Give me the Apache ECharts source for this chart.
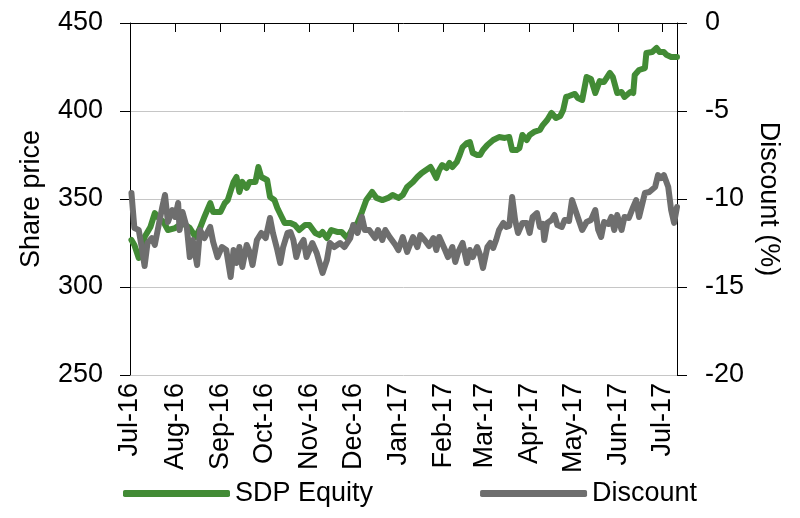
<!DOCTYPE html>
<html>
<head>
<meta charset="utf-8">
<script src="https://cdn.jsdelivr.net/npm/echarts@6/dist/echarts.min.js"></script>
<style>
html,body{margin:0;padding:0;background:#fff;}
#chart{width:800px;height:518px;}
</style>
</head>
<body>
<div id="chart"></div>
<script>
// x positions are days after 1 Jul 2016
const monthLabels = ['Jul-16','Aug-16','Sep-16','Oct-16','Nov-16','Dec-16','Jan-17','Feb-17','Mar-17','Apr-17','May-17','Jun-17','Jul-17'];
const monthTickDays = [0,31,62,92,123,153,184,215,243,274,304,335,365];

const equityDays = [1,3,6,8,10,14,17,19,23,26,31,36,41,45,48,51,55,57,62,65,67,71,73,75,77,80,82,86,88,90,94,96,99,101,104,106,110,113,116,120,123,127,130,132,135,138,142,145,149,152,156,159,162,166,169,173,177,180,184,187,190,194,197,200,203,206,208,210,212,214,217,219,221,224,226,228,231,233,235,238,240,242,245,249,253,257,260,262,265,267,269,272,274,277,281,283,286,289,292,295,297,299,301,305,307,310,313,316,319,322,325,329,331,334,337,339,343,345,346,349,353,354,358,361,363,366,368,371,375];
const equityPrice = [326.7,323.9,316.5,321.0,328.4,334.1,342.0,339.8,336.9,332.4,333.5,336.4,333.5,328.4,333.5,339.8,347.7,342.6,342.6,347.7,349.4,359.7,362.5,354.0,359.7,356.3,359.7,359.7,368.2,362.5,360.8,351.1,349.4,344.9,339.8,336.4,336.4,335.2,332.4,335.2,335.2,330.7,329.5,331.3,327.8,332.4,331.3,331.3,327.8,332.4,336.4,342.6,349.4,354.0,350.6,349.4,350.6,352.3,350.6,352.3,356.8,359.7,362.5,364.8,366.5,368.2,365.3,361.9,366.5,369.3,367.6,370.5,368.2,371.0,375.0,379.5,381.8,382.4,376.1,375.0,375.0,377.8,380.7,383.5,385.2,384.7,385.2,377.8,377.8,379.0,386.4,383.5,386.4,388.1,389.2,392.0,394.9,398.9,396.0,397.2,400.6,408.0,408.5,409.7,407.4,406.3,419.3,418.2,410.2,417.0,416.5,421.6,419.3,410.2,410.8,408.0,410.8,410.2,420.5,423.3,424.4,433.0,433.5,435.8,433.5,433.5,431.8,430.7,430.7];

const discountDays = [1,3,6,8,10,12,15,17,19,22,24,26,29,31,33,34,36,39,41,43,46,48,51,55,57,60,63,66,69,71,73,75,77,80,82,84,87,90,93,96,98,101,103,105,108,110,112,114,116,119,121,123,125,128,130,132,135,137,140,144,147,151,153,156,159,161,164,168,170,173,175,178,182,184,187,190,194,197,199,202,205,208,210,212,216,218,221,223,225,228,231,233,235,238,240,242,245,247,249,251,253,256,258,260,262,264,266,269,272,274,276,279,281,283,284,286,289,291,293,296,298,301,303,306,310,313,316,319,321,323,325,328,330,332,334,337,339,342,345,347,349,353,356,360,362,364,366,369,371,373,375];
const discountPct = [-9.66,-11.65,-11.76,-12.73,-13.81,-12.50,-12.22,-12.61,-11.76,-10.51,-9.77,-11.31,-10.63,-11.02,-10.23,-11.76,-10.74,-11.65,-13.30,-12.33,-13.75,-11.76,-12.22,-11.59,-12.44,-13.30,-12.73,-12.90,-14.43,-12.90,-13.64,-12.73,-13.86,-12.61,-13.01,-13.75,-12.33,-11.93,-12.22,-11.08,-11.93,-12.90,-13.64,-12.73,-11.93,-11.88,-12.33,-13.30,-12.73,-12.33,-13.30,-12.90,-12.50,-13.07,-13.64,-14.20,-13.47,-12.50,-12.73,-12.50,-12.73,-12.22,-11.48,-11.93,-11.02,-11.76,-11.76,-12.22,-11.76,-12.33,-11.76,-12.16,-12.61,-12.90,-12.16,-13.01,-12.16,-12.73,-12.05,-12.33,-12.67,-12.22,-12.90,-12.16,-12.90,-13.30,-12.73,-13.58,-13.01,-12.50,-13.64,-12.90,-13.30,-12.73,-13.18,-13.92,-12.73,-12.50,-12.78,-12.33,-11.76,-11.36,-11.59,-11.53,-9.89,-11.19,-11.93,-11.36,-11.36,-11.93,-11.02,-10.80,-11.59,-11.42,-12.33,-11.36,-11.19,-10.91,-11.48,-11.59,-11.19,-11.25,-10.06,-10.80,-11.76,-11.31,-11.19,-10.63,-11.76,-12.16,-11.31,-11.42,-11.02,-11.76,-10.91,-11.76,-11.02,-11.08,-10.45,-10.06,-11.02,-9.66,-9.60,-9.32,-8.64,-8.81,-8.64,-9.32,-10.63,-11.36,-10.45];

const priceTicks = {min: 250, max: 450, step: 50};
const discountTicks = {min: -20, max: 0, step: 5};

const FONT = '"Liberation Sans Narrow", "Arial Narrow", "Liberation Sans", Arial, sans-serif';
const FS = 27;
const GREEN = '#428b35';
const GREY = '#6e6e6e';

const chart = echarts.init(document.getElementById('chart'), null, {renderer: 'canvas'});
chart.setOption({
  animation: false,
  backgroundColor: '#fff',
  textStyle: {fontFamily: FONT, color: '#000'},
  grid: {left: 130, right: 123, top: 23, bottom: 143, containLabel: false},
  legend: {
    left: 118, top: 475,
    itemWidth: 107, itemHeight: 7, itemGap: 107,
    icon: 'roundRect',
    textStyle: {fontFamily: FONT, fontSize: FS, color: '#000', padding: [0,0,0,0]},
    data: ['SDP Equity', 'Discount']
  },
  xAxis: {
    type: 'value', min: 0, max: 375,
    axisLine: {show: true, lineStyle: {color: '#000', width: 1}},
    axisTick: {show: true, length: 9, customValues: monthTickDays, lineStyle: {color: '#000'}},
    axisLabel: {
      customValues: monthTickDays, rotate: 90, margin: 8,
      fontFamily: FONT, fontSize: FS, color: '#000',
      formatter: function (v) { const i = monthTickDays.indexOf(v); return i >= 0 ? monthLabels[i] : ''; }
    },
    splitLine: {show: false}
  },
  yAxis: [
    {
      type: 'value', min: priceTicks.min, max: priceTicks.max, interval: priceTicks.step,
      name: 'Share price', nameLocation: 'middle', nameRotate: 90, nameGap: 85,
      nameTextStyle: {fontFamily: FONT, fontSize: FS, color: '#000'},
      axisLine: {show: true, lineStyle: {color: '#000', width: 1}},
      axisTick: {show: true, length: 10, lineStyle: {color: '#000'}},
      axisLabel: {margin: 27, fontFamily: FONT, fontSize: FS, color: '#000'},
      splitLine: {show: true, lineStyle: {color: '#c6c6c6', width: 1}}
    },
    {
      type: 'value', min: discountTicks.min, max: discountTicks.max, interval: discountTicks.step,
      name: 'Discount (%)', nameLocation: 'middle', nameRotate: -90, nameGap: 76,
      nameTextStyle: {fontFamily: FONT, fontSize: FS, color: '#000'},
      axisLine: {show: true, lineStyle: {color: '#000', width: 1}},
      axisTick: {show: true, length: 10, lineStyle: {color: '#000'}},
      axisLabel: {margin: 28, fontFamily: FONT, fontSize: FS, color: '#000'},
      splitLine: {show: false}
    }
  ],
  series: [
    {
      name: 'SDP Equity', type: 'line', yAxisIndex: 0,
      data: equityDays.map((d, i) => [d, equityPrice[i]]),
      showSymbol: false, symbol: 'none',
      itemStyle: {color: GREEN},
      lineStyle: {color: GREEN, width: 6, cap: 'round', join: 'round'}
    },
    {
      name: 'Discount', type: 'line', yAxisIndex: 1,
      data: discountDays.map((d, i) => [d, discountPct[i]]),
      showSymbol: false, symbol: 'none',
      itemStyle: {color: GREY},
      lineStyle: {color: GREY, width: 6, cap: 'round', join: 'round'}
    }
  ]
});
</script>
</body>
</html>
